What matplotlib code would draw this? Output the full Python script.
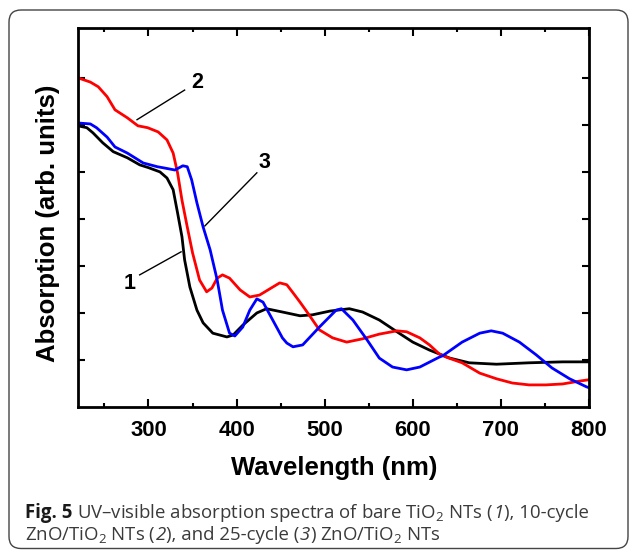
import matplotlib
matplotlib.use("Agg")
import matplotlib.pyplot as plt
from matplotlib.patches import FancyBboxPatch
from matplotlib.transforms import IdentityTransform

plt.rcParams['font.family'] = ['Liberation Sans', 'DejaVu Sans']
plt.rcParams['mathtext.fontset'] = 'custom'
plt.rcParams['mathtext.rm'] = 'Open Sans'
plt.rcParams['mathtext.it'] = 'Open Sans:italic'
plt.rcParams['mathtext.bf'] = 'Open Sans:bold'

# curve 1: bare TiO2 NTs
wl_1 = [220, 230, 237, 248, 260, 276, 290, 300, 313, 321, 328, 333, 338, 341, 347,
        355, 362, 373, 389, 396, 407, 423, 434, 452, 472, 486, 506, 528, 543, 562,
        582, 600, 619, 642, 664, 695, 732, 770, 797, 800]
abs_1 = [5.98, 5.94, 5.83, 5.62, 5.43, 5.30, 5.15, 5.09, 5.00, 4.87, 4.62, 4.13, 3.62, 3.13, 2.55,
         2.06, 1.79, 1.57, 1.49, 1.53, 1.74, 2.00, 2.09, 2.02, 1.94, 1.96, 2.04, 2.09, 2.02, 1.85,
         1.60, 1.38, 1.21, 1.04, 0.94, 0.91, 0.94, 0.96, 0.96, 0.96]

# curve 2: 10-cycle ZnO/TiO2 NTs
wl_2 = [220, 234, 243, 253, 262, 276, 288, 299, 311, 321, 328, 333, 338, 344, 350,
        358, 366, 372, 378, 384, 392, 404, 415, 426, 441, 449, 457, 464, 472, 480,
        494, 509, 525, 543, 562, 582, 593, 608, 619, 630, 638, 656, 676, 695, 713,
        732, 751, 770, 789, 800]
abs_2 = [7.00, 6.91, 6.81, 6.60, 6.32, 6.15, 5.98, 5.94, 5.85, 5.68, 5.40, 4.98, 4.40, 3.83, 3.28,
         2.70, 2.45, 2.53, 2.74, 2.81, 2.74, 2.49, 2.34, 2.38, 2.55, 2.64, 2.60, 2.43, 2.23, 2.02,
         1.64, 1.47, 1.38, 1.45, 1.55, 1.62, 1.60, 1.47, 1.32, 1.13, 1.06, 0.94, 0.72, 0.60, 0.51,
         0.47, 0.47, 0.49, 0.55, 0.58]

# curve 3: 25-cycle ZnO/TiO2 NTs
wl_3 = [220, 234, 241, 253, 262, 276, 294, 310, 316, 330, 339, 344, 349, 355, 362,
        370, 378, 384, 392, 398, 407, 415, 423, 430, 441, 452, 457, 464, 475, 494,
        513, 519, 532, 548, 562, 577, 593, 608, 630, 634, 656, 676, 689, 702, 721,
        740, 758, 778, 797, 800]
abs_3 = [6.04, 6.02, 5.94, 5.74, 5.53, 5.40, 5.19, 5.11, 5.09, 5.04, 5.13, 5.11, 4.83, 4.34, 3.83,
         3.34, 2.70, 2.06, 1.57, 1.51, 1.70, 2.06, 2.30, 2.23, 1.85, 1.47, 1.36, 1.28, 1.32, 1.70,
         2.06, 2.09, 1.85, 1.43, 1.04, 0.85, 0.79, 0.85, 1.06, 1.09, 1.38, 1.57, 1.62, 1.57, 1.38,
         1.11, 0.83, 0.60, 0.43, 0.41]

# label text, label position, leader line (from, to)
labels = ['1', '2', '3']
label_xy = [(279, 2.62), (355, 6.91), (432, 5.21)]
leader_from = [(290, 2.81), (341, 6.74), (423, 4.98)]
leader_to = [(337, 3.30), (287, 6.11), (364, 3.85)]

W, H = 630, 550
fig = plt.figure(figsize=(W / 100, H / 100), dpi=100)
ax = fig.add_axes([78 / W, 1 - 407 / H, 511 / W, 379 / H])

ax.plot(wl_1, abs_1, color='black', lw=2.0, solid_joinstyle='round')
ax.plot(wl_2, abs_2, color='#ff0000', lw=2.0, solid_joinstyle='round')
ax.plot(wl_3, abs_3, color='#0000ff', lw=2.0, solid_joinstyle='round')

for lab, xy, p0, p1 in zip(labels, label_xy, leader_from, leader_to):
    ax.plot([p0[0], p1[0]], [p0[1], p1[1]], color='black', lw=1.0)
    ax.text(xy[0], xy[1], lab, fontsize=15.5, fontweight='bold', ha='center', va='center')

ax.set_xlim(220, 800)
ax.set_ylim(0, 8.06)
ax.set_xticks(range(300, 801, 100))
ax.set_xticks(range(250, 800, 100), minor=True)
ax.set_yticks(range(1, 8))
ax.set_yticklabels([])
ax.tick_params(axis='both', which='both', direction='in', top=True, right=True, width=1.5)
ax.tick_params(axis='x', which='major', length=6, labelsize=15.8, pad=9)
ax.tick_params(axis='x', which='minor', length=3)
ax.tick_params(axis='y', which='major', length=5)
for lab in ax.get_xticklabels():
    lab.set_fontweight('bold')
for sp in ax.spines.values():
    sp.set_linewidth(2.0)

fig.text(334 / W, 1 - 475 / H, 'Wavelength (nm)', fontsize=18.5, fontweight='bold',
         ha='center', va='baseline')
fig.text(48 / W, 1 - 223 / H, 'Absorption (arb. units)', fontsize=18.5, fontweight='bold',
         rotation=90, ha='center', va='center')

# rounded frame round the figure
frame = FancyBboxPatch((9, 1.5), 619, 538.5, boxstyle='round,pad=0,rounding_size=12',
                       transform=IdentityTransform(), fill=False, edgecolor='#444444', lw=1.0)
fig.add_artist(frame)

# caption, written piece by piece so that the bold and italic parts line up
cap_size = 13.45
fig.canvas.draw()
renderer = fig.canvas.get_renderer()


def caption_line(x, baseline, pieces):
    for txt, weight, style, col in pieces:
        t = fig.text(x / W, 1 - baseline / H, txt, fontsize=cap_size, fontweight=weight,
                     fontstyle=style, family=['Open Sans', 'DejaVu Sans'], color=col,
                     va='baseline', ha='left')
        bb = t.get_window_extent(renderer)
        x = bb.x1


body = '#3a3a3a'
caption_line(25, 518, [
    ('Fig. 5 ', 'bold', 'normal', '#1a1a1a'),
    (r'UV–visible absorption spectra of bare TiO$_2$ NTs (', 'normal', 'normal', body),
    ('1', 'normal', 'italic', body),
    ('), 10-cycle', 'normal', 'normal', body),
])
caption_line(25, 540, [
    (r'ZnO/TiO$_2$ NTs (', 'normal', 'normal', body),
    ('2', 'normal', 'italic', body),
    ('), and 25-cycle (', 'normal', 'normal', body),
    ('3', 'normal', 'italic', body),
    (r') ZnO/TiO$_2$ NTs', 'normal', 'normal', body),
])

fig.savefig('out.png', dpi=100)
